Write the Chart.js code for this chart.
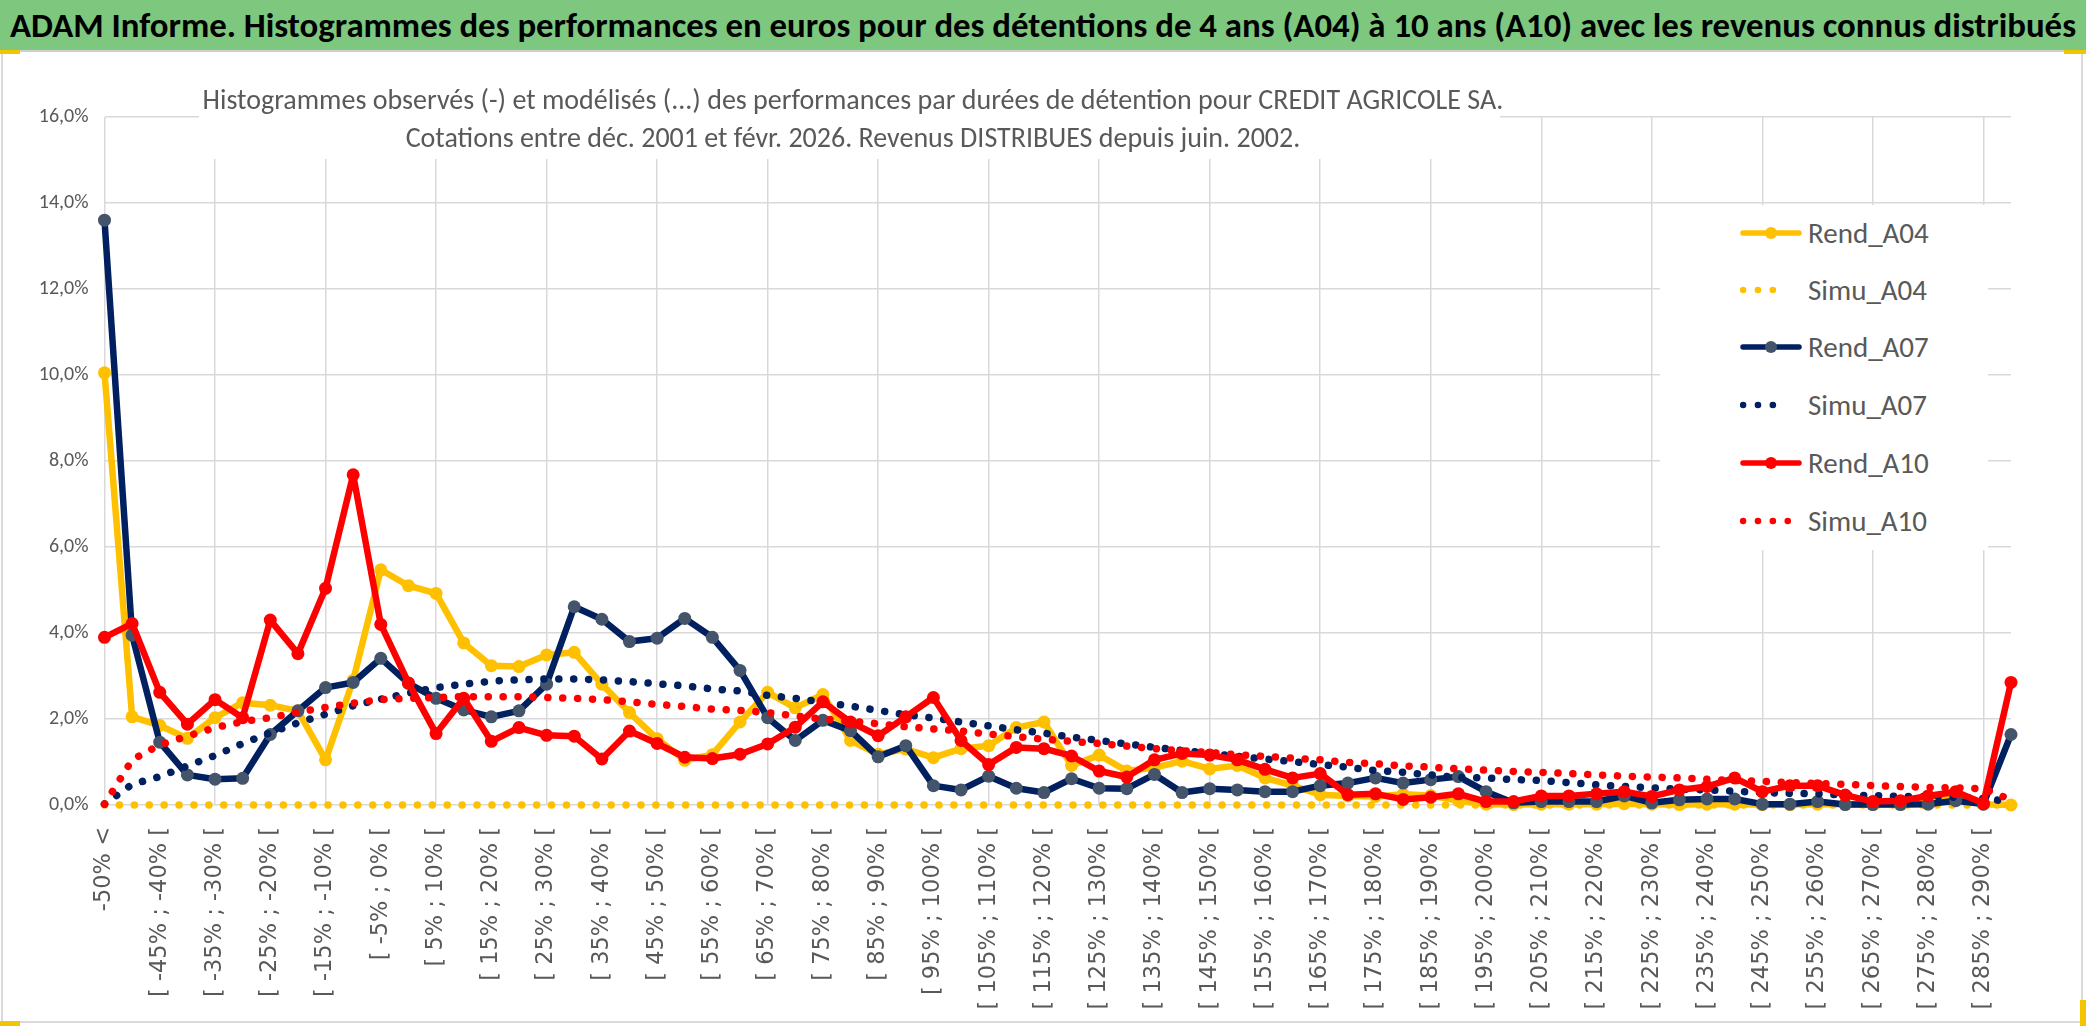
<!DOCTYPE html>
<html>
<head>
<meta charset="utf-8">
<script src="https://cdn.jsdelivr.net/npm/chart.js@4.4.1/dist/chart.umd.min.js"></script>
<style>
    body { margin: 0; width: 2086px; height: 1031px; overflow: hidden; position: relative; background: #fff;
           font-family: 'Carlito', 'Lato', 'Liberation Sans', sans-serif; }
    #titlebar { position: absolute; left: 0; top: 0; width: 2086px; height: 50px; background: #7dc87e;
                border-bottom: 2px solid #cfcfcf; text-align: center; line-height: 50px;
                font-weight: bold; font-size: 34.8px; color: #000; white-space: nowrap; z-index: 3; }
    #frame { position: absolute; left: 1px; top: 52px; width: 2078px; height: 969px; border: 2px solid #d9d9d9; border-top: none; }
    #chart-box { position: absolute; left: 0; top: 0; width: 2086px; height: 1031px; }
    #subtitle-bg { position: absolute; left: 199px; top: 70px; width: 1301px; height: 89px; background: #fff; z-index: 2; }
    #subtitle { position: absolute; left: 153px; top: 81px; width: 1400px; text-align: center; color: #595959;
                font-size: 28px; line-height: 38px; white-space: nowrap; z-index: 3; }
    #legend { position: absolute; left: 1660px; top: 205px; width: 328px; height: 345px; background: #fff; z-index: 2; }
    .item { position: absolute; left: 0; height: 40px; width: 328px; }
    .item svg { position: absolute; left: 80px; top: 10px; }
    .item span { position: absolute; left: 148px; top: 0; line-height: 40px; font-size: 29px; color: #595959; }
    .handle { position: absolute; background: #f5c400; z-index: 4; }
</style>
</head>
<body>
<div id="frame"></div>
<div id="titlebar">ADAM Informe. Histogrammes des performances en euros pour des détentions de 4 ans (A04) à 10 ans (A10) avec les revenus connus distribués</div>
<div id="chart-box"><canvas id="perfChart"></canvas></div>
<div id="subtitle-bg"></div>
<div id="subtitle">Histogrammes observés (-) et modélisés (...) des performances par durées de détention pour CREDIT AGRICOLE SA.<br>Cotations entre déc. 2001 et févr. 2026. Revenus DISTRIBUES depuis juin. 2002.</div>
<div id="legend"></div>
<div class="handle" style="left:0;top:50px;width:20px;height:4px"></div>
<div class="handle" style="left:2064px;top:50px;width:22px;height:4px"></div>
<div class="handle" style="left:0;top:1021px;width:20px;height:5px"></div>
<div class="handle" style="left:2080px;top:1000px;width:6px;height:26px"></div>
<script>
// tranches de performance (axe des x)
const categories = [
    '-50% <', '[ -50% ; -45% [', '[ -45% ; -40% [', '[ -40% ; -35% [', '[ -35% ; -30% [', '[ -30% ; -25% [',
    '[ -25% ; -20% [', '[ -20% ; -15% [', '[ -15% ; -10% [', '[ -10% ; -5% [', '[ -5% ; 0% [', '[ 0% ; 5% [',
    '[ 5% ; 10% [', '[ 10% ; 15% [', '[ 15% ; 20% [', '[ 20% ; 25% [', '[ 25% ; 30% [', '[ 30% ; 35% [',
    '[ 35% ; 40% [', '[ 40% ; 45% [', '[ 45% ; 50% [', '[ 50% ; 55% [', '[ 55% ; 60% [', '[ 60% ; 65% [',
    '[ 65% ; 70% [', '[ 70% ; 75% [', '[ 75% ; 80% [', '[ 80% ; 85% [', '[ 85% ; 90% [', '[ 90% ; 95% [',
    '[ 95% ; 100% [', '[ 100% ; 105% [', '[ 105% ; 110% [', '[ 110% ; 115% [', '[ 115% ; 120% [', '[ 120% ; 125% [',
    '[ 125% ; 130% [', '[ 130% ; 135% [', '[ 135% ; 140% [', '[ 140% ; 145% [', '[ 145% ; 150% [', '[ 150% ; 155% [',
    '[ 155% ; 160% [', '[ 160% ; 165% [', '[ 165% ; 170% [', '[ 170% ; 175% [', '[ 175% ; 180% [', '[ 180% ; 185% [',
    '[ 185% ; 190% [', '[ 190% ; 195% [', '[ 195% ; 200% [', '[ 200% ; 205% [', '[ 205% ; 210% [', '[ 210% ; 215% [',
    '[ 215% ; 220% [', '[ 220% ; 225% [', '[ 225% ; 230% [', '[ 230% ; 235% [', '[ 235% ; 240% [', '[ 240% ; 245% [',
    '[ 245% ; 250% [', '[ 250% ; 255% [', '[ 255% ; 260% [', '[ 260% ; 265% [', '[ 265% ; 270% [', '[ 270% ; 275% [',
    '[ 275% ; 280% [', '[ 280% ; 285% [', '[ 285% ; 290% [', '290% >='
];

// histogrammes observés (%)
const rendA04 = [
    10.05, 2.05, 1.85, 1.55, 2.03, 2.38, 2.32, 2.19, 1.05, 2.9,
    5.47, 5.1, 4.92, 3.77, 3.24, 3.22, 3.49, 3.55, 2.81, 2.15,
    1.54, 1.04, 1.17, 1.93, 2.62, 2.26, 2.57, 1.5, 1.18, 1.3,
    1.1, 1.31, 1.38, 1.8, 1.93, 0.92, 1.16, 0.79, 0.87, 1.02,
    0.84, 0.92, 0.63, 0.45, 0.24, 0.21, 0.2, 0.25, 0.22, 0.1,
    0.02, 0.01, 0.02, 0.02, 0.02, 0.03, 0.02, 0.01, 0.02, 0.02,
    0.01, 0.01, 0.02, 0.02, 0.01, 0.02, 0.12, 0.2, 0.02, 0.0
];
const rendA07 = [
    13.6, 3.95, 1.46, 0.7, 0.6, 0.62, 1.64, 2.19, 2.73, 2.85,
    3.41, 2.83, 2.48, 2.21, 2.05, 2.19, 2.81, 4.61, 4.32, 3.8,
    3.88, 4.34, 3.9, 3.13, 2.03, 1.5, 1.97, 1.73, 1.12, 1.38,
    0.45, 0.35, 0.67, 0.39, 0.29, 0.61, 0.39, 0.38, 0.71, 0.29,
    0.38, 0.35, 0.31, 0.31, 0.45, 0.51, 0.63, 0.51, 0.59, 0.66,
    0.31, 0.05, 0.08, 0.08, 0.08, 0.21, 0.05, 0.12, 0.14, 0.14,
    0.02, 0.02, 0.08, 0.01, 0.01, 0.01, 0.02, 0.1, 0.02, 1.64
];
const rendA10 = [
    3.9, 4.22, 2.62, 1.88, 2.45, 2.03, 4.3, 3.52, 5.04, 7.68,
    4.2, 2.84, 1.66, 2.48, 1.48, 1.8, 1.62, 1.6, 1.07, 1.72,
    1.43, 1.11, 1.08, 1.18, 1.42, 1.81, 2.4, 1.93, 1.61, 2.05,
    2.5, 1.5, 0.94, 1.34, 1.31, 1.14, 0.79, 0.65, 1.05, 1.2,
    1.16, 1.05, 0.83, 0.63, 0.73, 0.24, 0.26, 0.13, 0.18, 0.26,
    0.08, 0.08, 0.21, 0.21, 0.26, 0.31, 0.2, 0.35, 0.43, 0.63,
    0.31, 0.45, 0.45, 0.23, 0.08, 0.1, 0.21, 0.31, 0.04, 2.85
];

// histogrammes modélisés (%)
const simuA04 = [
    0, 0, 0, 0, 0, 0, 0, 0, 0, 0,
    0, 0, 0, 0, 0, 0, 0, 0, 0, 0,
    0, 0, 0, 0, 0, 0, 0, 0, 0, 0,
    0, 0, 0, 0, 0, 0, 0, 0, 0, 0,
    0, 0, 0, 0, 0, 0, 0, 0, 0, 0,
    0, 0, 0, 0, 0, 0, 0, 0, 0, 0,
    0, 0, 0, 0, 0, 0, 0, 0, 0, 0
];
const simuA07 = [
    0.02, 0.48, 0.66, 0.91, 1.15, 1.43, 1.68, 1.91, 2.11, 2.31,
    2.46, 2.6, 2.73, 2.81, 2.88, 2.91, 2.93, 2.93, 2.91, 2.87,
    2.82, 2.77, 2.7, 2.65, 2.55, 2.48, 2.39, 2.3, 2.2, 2.1,
    2.02, 1.93, 1.84, 1.75, 1.67, 1.58, 1.5, 1.42, 1.34, 1.27,
    1.2, 1.13, 1.07, 1.01, 0.94, 0.88, 0.8, 0.76, 0.7, 0.64,
    0.63, 0.59, 0.57, 0.52, 0.47, 0.43, 0.4, 0.37, 0.35, 0.32,
    0.29, 0.27, 0.26, 0.23, 0.22, 0.2, 0.2, 0.18, 0.15, 0.08
];
const simuA10 = [
    0.02, 1.05, 1.4, 1.6, 1.8, 1.94, 2.03, 2.16, 2.27, 2.37,
    2.45, 2.48, 2.5, 2.52, 2.52, 2.52, 2.5, 2.48, 2.45, 2.4,
    2.34, 2.29, 2.23, 2.2, 2.15, 2.07, 2.0, 1.95, 1.89, 1.82,
    1.77, 1.72, 1.65, 1.59, 1.53, 1.48, 1.43, 1.37, 1.31, 1.26,
    1.22, 1.17, 1.13, 1.09, 1.05, 0.99, 0.96, 0.91, 0.88, 0.84,
    0.81, 0.78, 0.76, 0.73, 0.7, 0.67, 0.65, 0.63, 0.6, 0.57,
    0.55, 0.52, 0.5, 0.48, 0.45, 0.43, 0.41, 0.4, 0.38, 0.12
];

const YELLOW = '#ffc000';
const NAVY = '#002060';
const NAVY_MARKER = '#44546a';
const RED = '#ff0000';
const GRID = '#d9d9d9';
const TEXT = '#595959';

function rendSeries(label, data, color, markerColor, order) {
    return {
        label, data, order,
        borderColor: color,
        backgroundColor: markerColor,
        borderWidth: 6.5,
        borderJoinStyle: 'round',
        pointRadius: 6.5,
        pointBorderWidth: 0,
        pointBackgroundColor: markerColor,
        tension: 0,
        clip: false
    };
}

function simuSeries(label, data, color, order) {
    return {
        label, data, order,
        borderColor: color,
        borderWidth: 7.5,
        borderDash: [0.1, 14.8],
        borderCapStyle: 'round',
        pointRadius: 0,
        tension: 0,
        clip: false
    };
}

const datasets = [
    rendSeries('Rend_A04', rendA04, YELLOW, YELLOW, 6),
    simuSeries('Simu_A04', simuA04, YELLOW, 5),
    rendSeries('Rend_A07', rendA07, NAVY, NAVY_MARKER, 4),
    simuSeries('Simu_A07', simuA07, NAVY, 3),
    rendSeries('Rend_A10', rendA10, RED, RED, 2),
    simuSeries('Simu_A10', simuA10, RED, 1)
];

new Chart(document.getElementById('perfChart'), {
    type: 'line',
    data: { labels: categories, datasets },
    options: {
        responsive: true,
        maintainAspectRatio: false,
        animation: false,
        layout: { padding: { top: 117, right: 75, bottom: 0, left: 0 } },
        plugins: { legend: { display: false }, tooltip: { enabled: false } },
        scales: {
            x: {
                afterFit: (scale) => { scale.height = 226; },
                border: { display: false },
                grid: {
                    drawTicks: false,
                    lineWidth: 1.5,
                    color: (ctx) => ctx.index % 4 === 0 ? GRID : 'rgba(0,0,0,0)'
                },
                ticks: {
                    autoSkip: false,
                    minRotation: 90,
                    maxRotation: 90,
                    padding: 22,
                    color: TEXT,
                    font: { family: 'DejaVu Sans', size: 22.5 },
                    callback: (v, i) => i % 2 === 0 ? categories[i] : ''
                }
            },
            y: {
                min: 0,
                max: 16,
                afterFit: (scale) => { scale.width = 104.5; },
                border: { display: false },
                grid: { drawTicks: false, lineWidth: 1.5, color: GRID },
                ticks: {
                    stepSize: 2,
                    padding: 16,
                    color: TEXT,
                    font: { family: "'Carlito', 'Lato', sans-serif", size: 20 },
                    callback: (v) => v.toFixed(1).replace('.', ',') + '%'
                }
            }
        }
    }
});

// légende à droite, dans la zone de tracé
const legendRows = [
    { label: 'Rend_A04', color: YELLOW, marker: YELLOW, dotted: false, y: 233 },
    { label: 'Simu_A04', color: YELLOW, dotted: true, dots: 4, y: 290 },
    { label: 'Rend_A07', color: NAVY, marker: NAVY_MARKER, dotted: false, y: 347 },
    { label: 'Simu_A07', color: NAVY, dotted: true, dots: 4, y: 405 },
    { label: 'Rend_A10', color: RED, marker: RED, dotted: false, y: 463 },
    { label: 'Simu_A10', color: RED, dotted: true, dots: 5, y: 521 }
];

const legendBox = document.getElementById('legend');
legendRows.forEach(r => {
    const swatch = r.dotted
        ? `<line x1="3" y1="10" x2="${3 + (r.dots - 1) * 14.8}" y2="10" stroke="${r.color}" stroke-width="6.5"
                 stroke-dasharray="0.1 14.8" stroke-linecap="round"/>`
        : `<line x1="3" y1="10" x2="59" y2="10" stroke="${r.color}" stroke-width="5.5" stroke-linecap="round"/>
           <circle cx="31" cy="10" r="6" fill="${r.marker}"/>`;
    const div = document.createElement('div');
    div.className = 'item';
    div.style.top = (r.y - 205 - 20) + 'px';
    div.innerHTML = `<svg width="64" height="20">${swatch}</svg><span>${r.label}</span>`;
    legendBox.appendChild(div);
});
</script>
</body>
</html>
